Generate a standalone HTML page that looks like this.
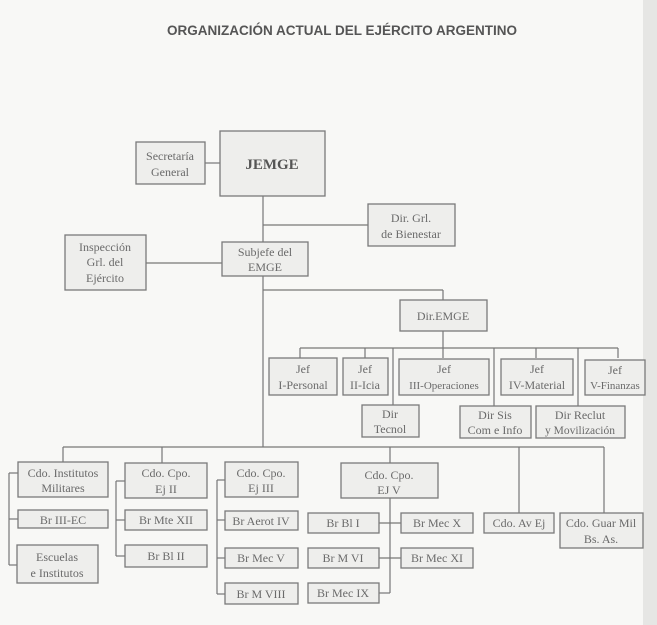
<!DOCTYPE html>
<html><head><meta charset="utf-8"><style>
html,body{margin:0;padding:0;background:#f8f8f6;}
svg{display:block}
text{font-family:"Liberation Serif",serif;fill:#6a6a6a;font-size:12px;text-anchor:middle}
.t{font-family:"Liberation Sans",sans-serif;font-weight:bold;font-size:13.5px;fill:#555}
rect{fill:#eeeeec;stroke:#7a7a7a;stroke-width:1.3}
line{stroke:#777;stroke-width:1.2}
</style></head><body>
<svg width="657" height="625" viewBox="0 0 657 625" xmlns="http://www.w3.org/2000/svg">
<rect x="643" y="0" width="14" height="625" style="fill:#e6e6e4;stroke:none"/>
<text class="t" x="342" y="35">ORGANIZACIÓN ACTUAL DEL EJÉRCITO ARGENTINO</text>
<!-- lines -->
<line x1="205" y1="163" x2="220" y2="163"/>
<line x1="263" y1="196" x2="263" y2="447"/>
<line x1="263" y1="225" x2="368" y2="225"/>
<line x1="146" y1="263" x2="222" y2="263"/>
<line x1="263" y1="290" x2="443" y2="290"/>
<line x1="443" y1="290" x2="443" y2="300"/>
<line x1="443" y1="331" x2="443" y2="348"/>
<line x1="300" y1="348" x2="618" y2="348"/>
<line x1="300" y1="348" x2="300" y2="358"/>
<line x1="365" y1="348" x2="365" y2="358"/>
<line x1="443" y1="348" x2="443" y2="358"/>
<line x1="536" y1="348" x2="536" y2="358"/>
<line x1="618" y1="348" x2="618" y2="358"/>
<line x1="393" y1="348" x2="393" y2="405"/>
<line x1="494" y1="348" x2="494" y2="406"/>
<line x1="578" y1="348" x2="578" y2="406"/>
<line x1="63" y1="447" x2="604" y2="447"/>
<line x1="63" y1="447" x2="63" y2="462"/>
<line x1="162" y1="447" x2="162" y2="463"/>
<line x1="390" y1="447" x2="390" y2="463"/>
<line x1="519" y1="447" x2="519" y2="513"/>
<line x1="604" y1="447" x2="604" y2="513"/>
<!-- brackets -->
<line x1="9" y1="473" x2="9" y2="565"/>
<line x1="9" y1="473" x2="18" y2="473"/>
<line x1="9" y1="519" x2="18" y2="519"/>
<line x1="9" y1="565" x2="17" y2="565"/>
<line x1="116" y1="481" x2="116" y2="556"/>
<line x1="116" y1="481" x2="125" y2="481"/>
<line x1="116" y1="520" x2="125" y2="520"/>
<line x1="116" y1="556" x2="125" y2="556"/>
<line x1="217" y1="480" x2="217" y2="594"/>
<line x1="217" y1="480" x2="225" y2="480"/>
<line x1="217" y1="520" x2="225" y2="520"/>
<line x1="217" y1="558" x2="225" y2="558"/>
<line x1="217" y1="594" x2="225" y2="594"/>
<line x1="390" y1="498" x2="390" y2="593"/>
<line x1="379" y1="523" x2="401" y2="523"/>
<line x1="379" y1="558" x2="401" y2="558"/>
<line x1="379" y1="593" x2="390" y2="593"/>
<!-- boxes -->
<rect x="136" y="142" width="69" height="42"/><text x="170" y="160">Secretaría</text><text x="170" y="176">General</text>
<rect x="220" y="131" width="105" height="65"/><text x="272" y="169" style="font-size:15px;font-weight:bold;fill:#555">JEMGE</text>
<rect x="368" y="204" width="87" height="42"/><text x="411" y="222">Dir. Grl.</text><text x="411" y="238">de Bienestar</text>
<rect x="222" y="242" width="86" height="34"/><text x="265" y="256">Subjefe del</text><text x="265" y="271">EMGE</text>
<rect x="65" y="235" width="81" height="55"/><text x="105" y="251">Inspección</text><text x="105" y="266">Grl. del</text><text x="105" y="282">Ejército</text>
<rect x="400" y="300" width="87" height="31"/><text x="443" y="320">Dir.EMGE</text>
<rect x="269" y="358" width="68" height="37"/><text x="303" y="373">Jef</text><text x="303" y="389">I-Personal</text>
<rect x="343" y="358" width="45" height="37"/><text x="365" y="373">Jef</text><text x="365" y="389">II-Icia</text>
<rect x="399" y="359" width="90" height="36"/><text x="444" y="373">Jef</text><text x="444" y="389" style="font-size:11px">III-Operaciones</text>
<rect x="501" y="359" width="72" height="36"/><text x="537" y="373">Jef</text><text x="537" y="389">IV-Material</text>
<rect x="585" y="360" width="60" height="35"/><text x="615" y="374">Jef</text><text x="615" y="389" style="font-size:11px">V-Finanzas</text>
<rect x="362" y="405" width="57" height="32"/><text x="390" y="418">Dir</text><text x="390" y="433">Tecnol</text>
<rect x="460" y="406" width="71" height="32"/><text x="495" y="419">Dir Sis</text><text x="495" y="434">Com e Info</text>
<rect x="536" y="406" width="89" height="32"/><text x="580" y="419">Dir Reclut</text><text x="580" y="434" style="font-size:11.5px">y Movilización</text>
<rect x="18" y="462" width="90" height="35"/><text x="63" y="477">Cdo. Institutos</text><text x="63" y="492">Militares</text>
<rect x="18" y="510" width="90" height="18"/><text x="63" y="524">Br III-EC</text>
<rect x="17" y="545" width="81" height="38"/><text x="57" y="561">Escuelas</text><text x="57" y="577">e Institutos</text>
<rect x="125" y="463" width="82" height="35"/><text x="166" y="477">Cdo. Cpo.</text><text x="166" y="493">Ej II</text>
<rect x="125" y="510" width="82" height="20"/><text x="166" y="524">Br Mte XII</text>
<rect x="125" y="545" width="82" height="22"/><text x="166" y="560">Br Bl II</text>
<rect x="225" y="462" width="73" height="35"/><text x="261" y="477">Cdo. Cpo.</text><text x="261" y="492">Ej III</text>
<rect x="225" y="511" width="73" height="19"/><text x="261" y="525">Br Aerot IV</text>
<rect x="225" y="548" width="73" height="20"/><text x="261" y="562">Br Mec V</text>
<rect x="225" y="583" width="73" height="21"/><text x="261" y="598">Br M VIII</text>
<rect x="341" y="463" width="97" height="35"/><text x="389" y="479">Cdo. Cpo.</text><text x="389" y="494">EJ V</text>
<rect x="308" y="513" width="71" height="20"/><text x="343" y="527">Br Bl I</text>
<rect x="401" y="513" width="72" height="20"/><text x="437" y="527">Br Mec X</text>
<rect x="308" y="548" width="71" height="20"/><text x="343" y="562">Br M VI</text>
<rect x="401" y="548" width="72" height="20"/><text x="437" y="562">Br Mec XI</text>
<rect x="308" y="583" width="71" height="20"/><text x="343" y="597">Br Mec IX</text>
<rect x="484" y="513" width="70" height="20"/><text x="519" y="527">Cdo. Av Ej</text>
<rect x="560" y="513" width="83" height="35"/><text x="601" y="527">Cdo. Guar Mil</text><text x="601" y="543">Bs. As.</text>
</svg>
</body></html>
